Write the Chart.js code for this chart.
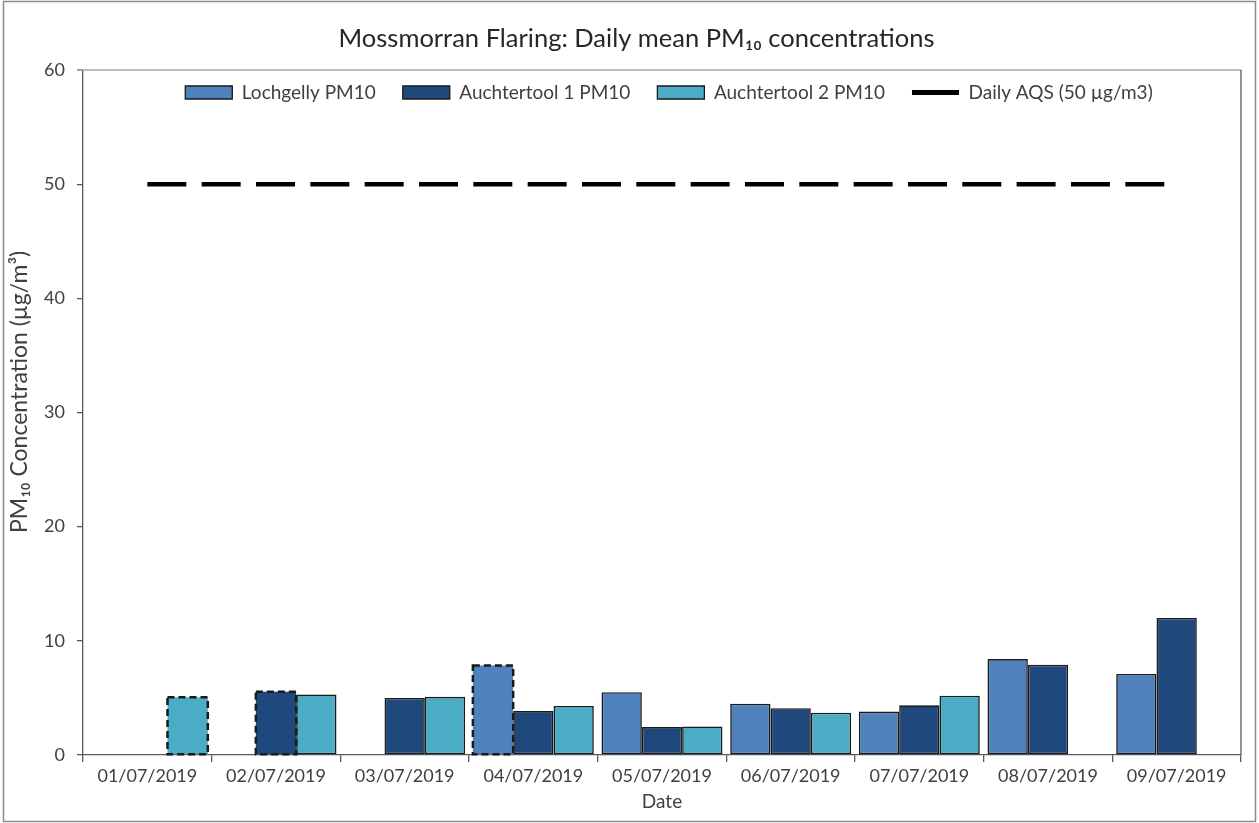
<!DOCTYPE html>
<html><head><meta charset="utf-8">
<script src="https://cdn.jsdelivr.net/npm/chart.js@4"></script>
<style>html,body{margin:0;padding:0;background:#fff}#wrap{width:1259px;height:823px;position:relative}</style>
</head><body><div id="wrap"><canvas id="c" width="1259" height="823"></canvas></div>
<script>
const dates = ['01/07/2019','02/07/2019','03/07/2019','04/07/2019','05/07/2019','06/07/2019','07/07/2019','08/07/2019','09/07/2019'];
const lochgelly    = [null, null, null, 7.85, 5.5, 4.5, 3.8, 8.4, 7.1];
const auchtertool1 = [null, 5.55, 5.0, 3.85, 2.45, 4.1, 4.35, 7.9, 12.0];
const auchtertool2 = [5.05, 5.3, 5.1, 4.3, 2.5, 3.7, 5.2, null, null];
const dailyAQS     = [50, 50, 50, 50, 50, 50, 50, 50, 50];
const lochgellyDashed    = [false, false, false, true, false, false, false, false, false];
const auchtertool1Dashed = [false, true, false, false, false, false, false, false, false];
const auchtertool2Dashed = [true, false, false, false, false, false, false, false, false];
const yTicks = [0, 10, 20, 30, 40, 50, 60];

const FONT = "Lato, 'DejaVu Sans', sans-serif";
const TXT = '#404040';
const AXIS = '#595959';
const dashedSets = [lochgellyDashed, auchtertool1Dashed, auchtertool2Dashed];

function barDS(label, data, color, dashed) {
  return {
    type: 'bar', label, data,
    backgroundColor: color,
    borderColor: '#1a1a1a',
    borderWidth: ctx => dashed[ctx.dataIndex] ? 0 : 1.6,
    borderSkipped: false,
    categoryPercentage: 0.94,
    barPercentage: 1.0
  };
}

const dashedBorders = {
  id: 'dashedBorders',
  afterDatasetsDraw(chart) {
    const ctx = chart.ctx;
    dashedSets.forEach((flags, di) => {
      const meta = chart.getDatasetMeta(di);
      meta.data.forEach((bar, i) => {
        if (!flags[i]) return;
        const p = bar.getProps(['x', 'y', 'base', 'width'], true);
        ctx.save();
        ctx.setLineDash([7, 4]);
        ctx.lineWidth = 2.5;
        ctx.strokeStyle = '#1a1a1a';
        ctx.strokeRect(p.x - p.width / 2, p.y, p.width, p.base - p.y);
        ctx.restore();
      });
    });
  }
};

// legend sits inside the plot box: it takes no layout height
const legendInside = {
  id: 'legendInside',
  beforeUpdate(chart) {
    const lg = chart.legend;
    if (lg && !lg._patched) {
      const orig = lg.fit;
      lg.fit = function () { orig.call(this); this._realH = this.height; this.height = 0; };
      lg._patched = true;
    }
  },
  afterLayout(chart) {
    const lg = chart.legend;
    if (lg) {
      const a = chart.chartArea;
      lg.top = a.top - 14;
      lg.height = lg._realH || 0;
      lg.bottom = lg.top + lg.height;
      lg.left = a.left + 14;
      lg.right = a.right;
    }
  }
};

const frame = {
  id: 'frame',
  afterDraw(chart) {
    const ctx = chart.ctx, a = chart.chartArea;
    ctx.save();
    ctx.strokeStyle = '#a6a6a6';
    ctx.lineWidth = 1.5;
    ctx.beginPath(); ctx.moveTo(a.left - 6, a.top); ctx.lineTo(a.right, a.top); ctx.stroke();
    ctx.strokeStyle = AXIS;
    ctx.lineWidth = 1.3;
    ctx.beginPath(); ctx.moveTo(a.right, a.top); ctx.lineTo(a.right, a.bottom); ctx.stroke();
    ctx.strokeStyle = '#8c8c8c';
    ctx.lineWidth = 1.5;
    ctx.strokeRect(3.5, 1.5, chart.width - 7, chart.height - 3);
    ctx.restore();
  }
};

new Chart(document.getElementById('c'), {
  data: {
    labels: dates,
    datasets: [
      barDS('Lochgelly PM10', lochgelly, '#4f81bd', lochgellyDashed),
      barDS('Auchtertool 1 PM10', auchtertool1, '#1f497d', auchtertool1Dashed),
      barDS('Auchtertool 2 PM10', auchtertool2, '#4bacc6', auchtertool2Dashed),
      {
        type: 'line', label: 'Daily AQS (50 µg/m3)', data: dailyAQS,
        borderColor: '#000', backgroundColor: '#000',
        borderWidth: 4.5, borderDash: [39, 15.33], borderCapStyle: 'butt',
        pointRadius: 0, fill: false
      }
    ]
  },
  options: {
    responsive: false,
    animation: false,
    devicePixelRatio: 1,
    layout: { padding: { left: 6, right: 18, top: 0, bottom: 8 } },
    plugins: {
      tooltip: { enabled: false },
      title: {
        display: true,
        text: '    Mossmorran Flaring: Daily mean PM₁₀ concentrations',
        font: { family: FONT, size: 25.5, weight: 'normal' },
        color: '#262626',
        padding: { top: 23, bottom: 16.4 }
      },
      legend: {
        position: 'top',
        align: 'center',
        labels: {
          font: { family: FONT, size: 19 },
          color: TXT,
          usePointStyle: true,
          pointStyleWidth: 47,
          boxHeight: 13,
          padding: 27,
          generateLabels(chart) {
            const items = Chart.defaults.plugins.legend.labels.generateLabels(chart);
            return items.map((it, i) => {
              if (i === 3) {
                it.pointStyle = 'line'; it.lineDash = []; it.lineWidth = 5; it.strokeStyle = '#000';
              } else {
                it.pointStyle = 'rect'; it.lineDash = []; it.lineWidth = 1.3; it.strokeStyle = '#1a1a1a';
              }
              return it;
            });
          }
        }
      }
    },
    scales: {
      x: {
        type: 'category',
        afterFit(s) { s.height = 60; },
        border: { display: true, color: AXIS, width: 1.3 },
        grid: { offset: true, drawOnChartArea: false, drawTicks: true, tickLength: 7, color: AXIS, lineWidth: 1.3 },
        ticks: { font: { family: FONT, size: 18 }, color: TXT, padding: 3, maxRotation: 0 },
        title: { display: true, text: 'Date', font: { family: FONT, size: 19 }, color: TXT, padding: { top: 0, bottom: 2 } }
      },
      y: {
        min: yTicks[0], max: yTicks[yTicks.length - 1],
        afterFit(s) { s.width = 77; },
        border: { display: true, color: AXIS, width: 1.3 },
        grid: { drawOnChartArea: false, drawTicks: true, tickLength: 6, color: AXIS, lineWidth: 1.3 },
        ticks: { stepSize: yTicks[1] - yTicks[0], font: { family: FONT, size: 18 }, color: TXT, padding: 12 },
        title: { display: true, text: '       PM₁₀ Concentration (µg/m³)', font: { family: FONT, size: 23 }, color: TXT, padding: { top: 0, bottom: 0 } }
      }
    }
  },
  plugins: [dashedBorders, legendInside, frame]
});
</script></body></html>
